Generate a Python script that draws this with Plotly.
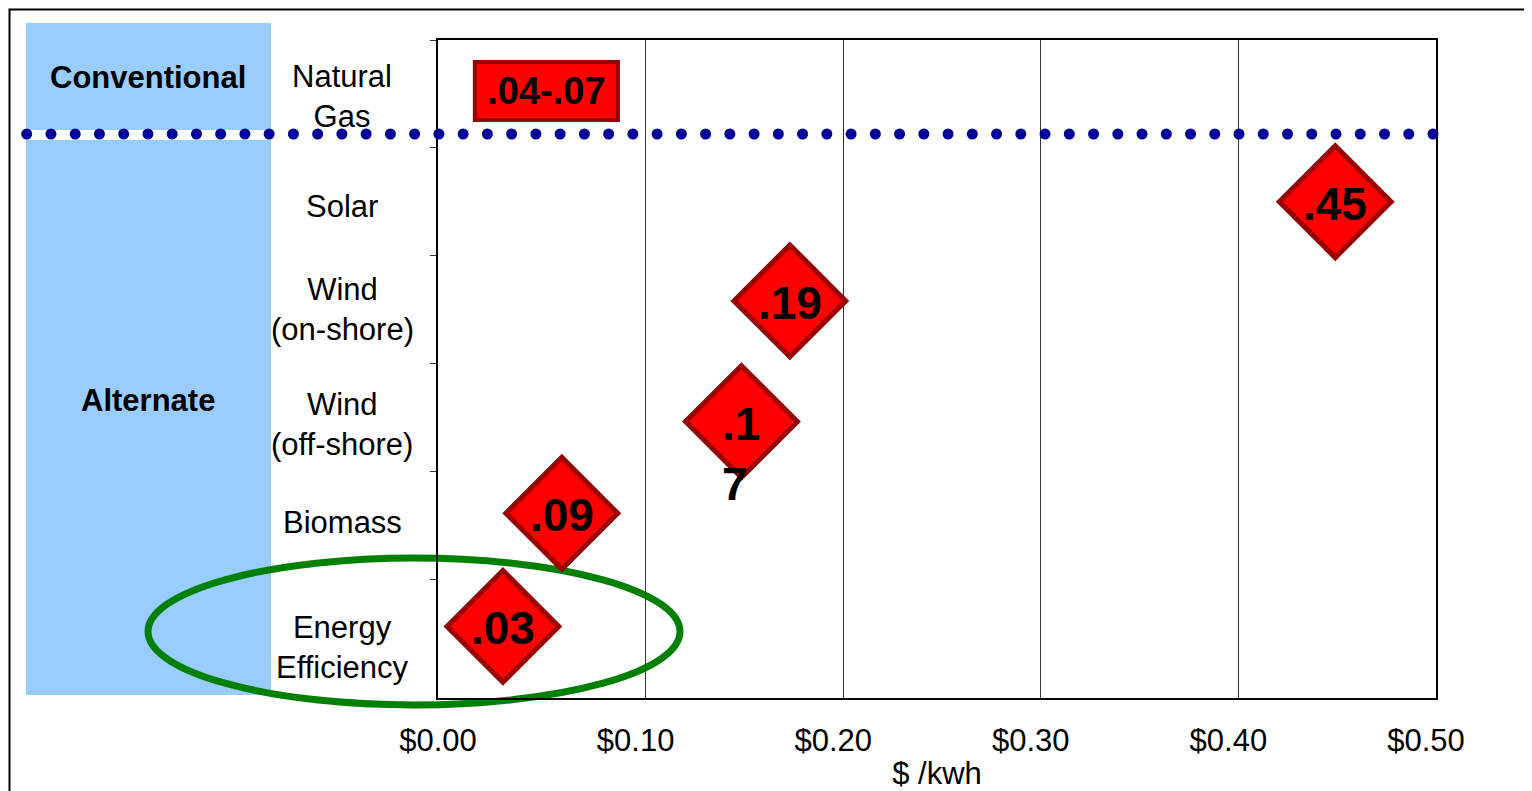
import numpy as np
import plotly.graph_objects as go

# ---------------- data ----------------
categories = ["Natural<br>Gas", "Solar", "Wind<br>(on-shore)", "Wind<br>(off-shore)",
              "Biomass", "Energy<br>Efficiency"]
category_y = [0.52, 1.54, 2.50, 3.57, 4.48, 5.64]

group_names = ["Conventional", "Alternate"]

alt_sources = ["Solar", "Wind (on-shore)", "Wind (off-shore)", "Biomass", "Energy Efficiency"]
alt_cost = [0.449, 0.173, 0.1485, 0.0576, 0.0278]
alt_row = [1.50, 2.42, 3.54, 4.39, 5.44]
alt_labels = [".45", ".19", ".1<br>7", ".09", ".03"]

gas_low = 0.0136
gas_high = 0.086
gas_row = 0.473
gas_label = ".04-.07"

x_tickvals = [0.0, 0.1, 0.2, 0.3, 0.4, 0.5]
x_ticktext = ["$0.00", "$0.10", "$0.20", "$0.30", "$0.40", "$0.50"]
x_gridvals = [0.1, 0.2, 0.3, 0.4]
y_boundaries = [0, 1, 2, 3, 4, 5]
separator_row = 0.872
x_title = "$ /kwh"

# ---------------- geometry (reference-page pixels) ----------------
OFF = 8                      # browser body margin
W, H = 1532 - OFF, 791 - OFF
SEP_L = 22                   # dotted separator starts here
L, R, T, B = 438, 1436, 40, 698
X0_PX = 448                  # pixel of $0.00
PX_PER_UNIT = 1980.0         # pixels per $1
ROW_PX = 107.8


def px2data(px):
    return (px - X0_PX) / PX_PER_UNIT


def pxx(px):                 # reference pixel -> paper x
    return (px - SEP_L) / (R - SEP_L)


def pxy(py):                 # reference pixel -> paper y
    return (B - py) / (B - T)


x_range = [px2data(L), 0.5]
x2_range = [px2data(SEP_L), 0.5]
y_range = [(B - T) / ROW_PX, 0]
x_domain = [(L - SEP_L) / (R - SEP_L), 1]

BASE_FONT = "Liberation Sans, Arial, sans-serif"
NUM_FONT = "Liberation Sans, Arial, sans-serif"
RED = "#FF0000"
DARK_RED = "#990000"
NAVY = "#000099"

fig = go.Figure()

# Natural gas range box
fig.add_trace(go.Bar(
    orientation="h",
    y=[gas_row], x=[gas_high - gas_low], base=[gas_low], width=[0.54],
    marker=dict(color=RED, line=dict(color=DARK_RED, width=4)),
    text=[gas_label], textposition="inside", insidetextanchor="middle",
    constraintext="none", textangle=0,
    insidetextfont=dict(family=NUM_FONT, size=38, color="black", weight="bold"),
    hoverinfo="skip", showlegend=False,
))

# dotted separator between conventional and alternate (spans into the label area)
sep_x = np.linspace(px2data(26.7), px2data(1435), 59)
fig.add_trace(go.Scatter(
    x=sep_x, y=[separator_row] * len(sep_x), mode="markers", xaxis="x2", yaxis="y",
    marker=dict(color=NAVY, size=11, line=dict(width=0)),
    cliponaxis=False, hoverinfo="skip", showlegend=False,
))

# alternate source diamonds
fig.add_trace(go.Scatter(
    x=alt_cost, y=alt_row, mode="markers",
    marker=dict(symbol="diamond", size=86, color=RED,
                line=dict(color=DARK_RED, width=5)),
    cliponaxis=False, hoverinfo="skip", showlegend=False,
))

annotations = []
for cx, ry, lbl in zip(alt_cost, alt_row, alt_labels):
    annotations.append(dict(
        x=cx, y=ry, xref="x", yref="y", text=lbl, showarrow=False,
        xanchor="center", yanchor="top", yshift=26, align="left",
        font=dict(family=NUM_FONT, size=46, color="black", weight="bold"),
    ))

# category labels
for lbl, yy in zip(categories, category_y):
    annotations.append(dict(
        x=pxx(342), y=yy, xref="paper", yref="y", text=lbl, showarrow=False,
        xanchor="center", yanchor="middle", align="center",
        font=dict(family=BASE_FONT, size=31, color="black"),
    ))

# group labels
for lbl, py in zip(group_names, [77, 400]):
    annotations.append(dict(
        x=pxx(148), y=pxy(py), xref="paper", yref="paper", text=lbl,
        showarrow=False, xanchor="center", yanchor="middle",
        font=dict(family=BASE_FONT, size=31, color="black", weight="bold"),
    ))

shapes = [
    # blue band (split by white strip under dotted line)
    dict(type="rect", xref="paper", yref="paper", layer="below",
         x0=pxx(26), x1=pxx(271), y0=pxy(130), y1=pxy(23),
         fillcolor="#99CCFF", line=dict(width=0)),
    dict(type="rect", xref="paper", yref="paper", layer="below",
         x0=pxx(26), x1=pxx(271), y0=pxy(695), y1=pxy(140),
         fillcolor="#99CCFF", line=dict(width=0)),
    # outer frame
    dict(type="rect", xref="paper", yref="paper", layer="below",
         x0=pxx(OFF + 1.5), x1=pxx(1545), y0=pxy(800), y1=pxy(OFF + 1.5),
         fillcolor="rgba(0,0,0,0)", line=dict(color="black", width=2)),
    # green ellipse highlight
    dict(type="circle", xref="paper", yref="paper", layer="between",
         x0=pxx(148), x1=pxx(680), y0=pxy(705), y1=pxy(558),
         fillcolor="rgba(0,0,0,0)", line=dict(color="#008000", width=7)),
]

fig.update_layout(
    width=W, height=H,
    margin=dict(l=SEP_L - OFF, r=W - (R - OFF), t=T - OFF, b=H - (B - OFF), pad=0,
                autoexpand=False),
    paper_bgcolor="white", plot_bgcolor="rgba(0,0,0,0)",
    showlegend=False,
    font=dict(family=BASE_FONT, size=31, color="black"),
    annotations=annotations, shapes=shapes,
    xaxis=dict(
        domain=x_domain, anchor="y", automargin=False,
        range=x_range, tickmode="array", tickvals=x_tickvals, ticktext=x_ticktext,
        showgrid=False, zeroline=False, ticks="", ticklabelshift=-10,
        ticklabelstandoff=14,
        tickfont=dict(family=BASE_FONT, size=31, color="black"),
        showline=True, linecolor="black", linewidth=2, mirror=True,
        minor=dict(tickmode="array", tickvals=x_gridvals, showgrid=True,
                   gridcolor="#333333", gridwidth=1, ticks=""),
        title=dict(text=x_title, standoff=11,
                   font=dict(family=BASE_FONT, size=31, color="black")),
    ),
    xaxis2=dict(domain=[0, 1], range=x2_range, anchor="free", position=0,
                visible=False, showgrid=False, zeroline=False, automargin=False),
    yaxis=dict(
        anchor="x", automargin=False,
        range=y_range, tickmode="array", tickvals=y_boundaries,
        showticklabels=False, ticks="outside", ticklen=6, tickwidth=1,
        tickcolor="#333333", showgrid=False, zeroline=False,
        showline=True, linecolor="black", linewidth=2, mirror=True,
    ),
)

fig.write_html("out.html")
